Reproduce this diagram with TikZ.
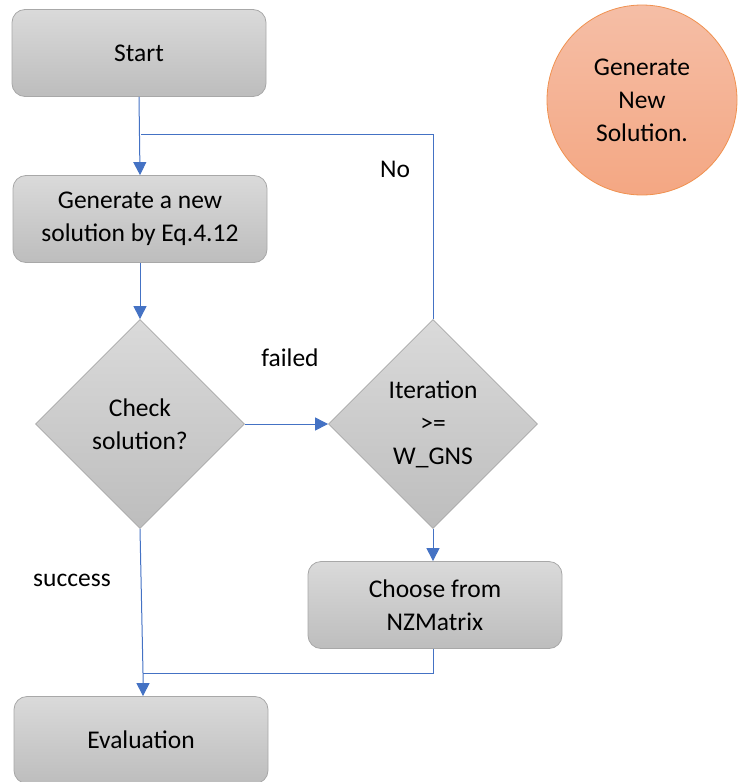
\documentclass[tikz,border=0pt]{standalone}
\usepackage{fontspec}
\setmainfont{Carlito}
\usetikzlibrary{shapes.geometric,arrows.meta}
\definecolor{flowblue}{HTML}{4472C4}
\definecolor{boxedge}{HTML}{A8A8A8}
\definecolor{boxtop}{HTML}{DADADA}
\definecolor{boxbot}{HTML}{BDBDBD}
\definecolor{circtop}{HTML}{F5BEA6}
\definecolor{circbot}{HTML}{F4A783}
\definecolor{circedge}{HTML}{F0914F}
\begin{document}
\begin{tikzpicture}[x=1pt,y=-1pt,
  every node/.style={font=\fontsize{25.5}{33}\selectfont, align=center},
  procbox/.style={draw=boxedge, line width=0.8pt, rounded corners=13pt,
    top color=boxtop, bottom color=boxbot, minimum width=254pt,
    minimum height=87pt, inner sep=0pt},
  decision/.style={diamond, aspect=1, draw=boxedge, line width=0.8pt,
    top color=boxtop, bottom color=boxbot, minimum width=209pt,
    minimum height=209pt, inner sep=0pt},
  flow/.style={draw=flowblue, line width=1pt},
  flowarrow/.style={flow, -{Triangle[length=13pt,width=13pt]}},
  lbl/.style={inner sep=0pt}
]
\useasboundingbox (0,0) rectangle (738,782);

% process boxes
\node[procbox] (start) at (139,53) {Start};
\node[procbox] (gen) at (140,219) {Generate a new\\solution by Eq.4.12};
\node[procbox] (choose) at (435,605) {Choose from\\NZMatrix};
\node[procbox] (eval) at (141,740) {Evaluation};

% decisions
\node[decision] (check) at (140,424) {Check\\solution?};
\node[decision] (iter) at (433,424) {Iteration\\>=\\W\_GNS};

% side legend circle
\node[circle, draw=circedge, line width=0.8pt, top color=circtop,
  bottom color=circbot, minimum size=190pt, inner sep=0pt] (legend)
  at (642,100) {Generate\\New\\Solution.};

% junction points
\coordinate (loopj) at (141,134);
\coordinate (mergej) at (143,673);

% connectors
\draw[flowarrow] (start.south) -- (gen.north);
\draw[flow] (iter.north) |- (loopj);
\draw[flowarrow] (gen.south) -- (check.north);
\draw[flowarrow] (check.east) -- (iter.west);
\draw[flowarrow] (iter.south) -- (iter.south |- choose.north);
\draw[flow] (choose.south -| iter.south) |- (mergej);
\draw[flowarrow] (check.south) -- (mergej) -- (mergej |- eval.north);

% labels
\node[lbl] (nolbl) at (395,169) {No};
\node[lbl] (faillbl) at (290,358) {failed};
\node[lbl] (succlbl) at (72,580) {success};
\end{tikzpicture}
\end{document}
